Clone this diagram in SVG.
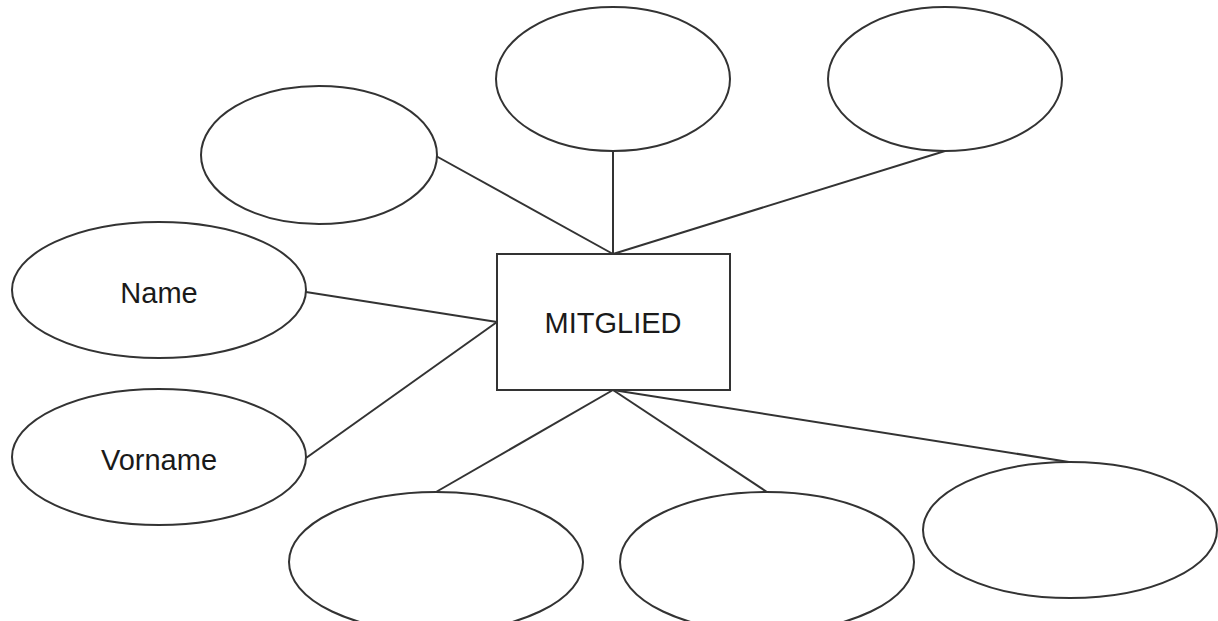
<svg xmlns="http://www.w3.org/2000/svg" width="1218" height="621" viewBox="0 0 1218 621">
<style>
.shape{fill:#fff;stroke:#333;stroke-width:2}
.conn line{stroke:#333;stroke-width:2}
text{font-family:"Liberation Sans",Arial,sans-serif;font-size:29px;fill:#1a1a1a;text-anchor:middle}
</style>
<rect width="1218" height="621" fill="#fff"/>
<g id="connectors" class="conn">
<line x1="436" y1="156" x2="613" y2="254"/>
<line x1="613" y1="151" x2="613" y2="254"/>
<line x1="945" y1="151" x2="613" y2="254"/>
<line x1="306" y1="292" x2="497" y2="322"/>
<line x1="306" y1="458" x2="497" y2="322"/>
<line x1="613" y1="390" x2="436" y2="492"/>
<line x1="613" y1="390" x2="767" y2="492"/>
<line x1="613" y1="390" x2="1069" y2="462"/>
</g>
<g id="attr-top-left"><ellipse class="shape" cx="319" cy="155" rx="118" ry="69"/></g>
<g id="attr-top-mid"><ellipse class="shape" cx="613" cy="79" rx="117" ry="72"/></g>
<g id="attr-top-right"><ellipse class="shape" cx="945" cy="79" rx="117" ry="72"/></g>
<g id="attr-name"><ellipse class="shape" cx="159" cy="290" rx="147" ry="68"/><text x="159" y="303">Name</text></g>
<g id="attr-vorname"><ellipse class="shape" cx="159" cy="457" rx="147" ry="68"/><text x="159" y="470">Vorname</text></g>
<g id="attr-bottom-1"><ellipse class="shape" cx="436" cy="562" rx="147" ry="70"/></g>
<g id="attr-bottom-2"><ellipse class="shape" cx="767" cy="562" rx="147" ry="70"/></g>
<g id="attr-bottom-right"><ellipse class="shape" cx="1070" cy="530" rx="147" ry="68"/></g>
<g id="entity-mitglied"><rect class="shape" x="497" y="254" width="233" height="136"/><text x="613" y="333">MITGLIED</text></g>
</svg>
